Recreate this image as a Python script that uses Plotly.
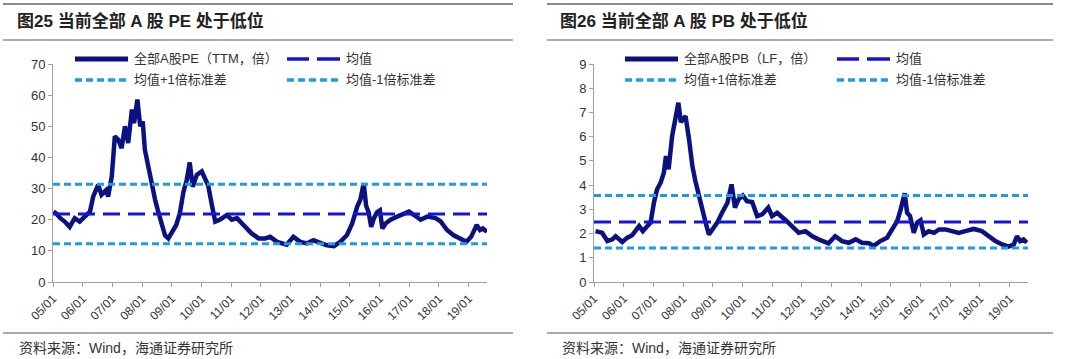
import plotly.graph_objects as go

# ---------------- data ----------------
pe_dates = ["2005-01-05", "2005-02-10", "2005-04-01", "2005-05-25", "2005-07-25", "2005-08-20",
            "2005-09-25", "2005-11-25", "2006-02-20", "2006-04-01", "2006-05-10", "2006-07-10",
            "2006-08-20", "2006-10-15", "2006-11-10", "2006-12-25", "2007-02-01", "2007-03-15",
            "2007-04-25", "2007-06-05", "2007-07-15", "2007-08-30", "2007-09-25", "2007-11-05",
            "2007-12-10", "2008-01-10", "2008-02-05", "2008-03-20", "2008-05-01", "2008-06-10",
            "2008-07-20", "2008-09-01", "2008-10-10", "2008-11-20", "2009-01-01", "2009-02-25",
            "2009-04-10", "2009-05-25", "2009-07-05", "2009-08-10", "2009-09-15", "2009-11-05",
            "2010-01-05", "2010-02-10", "2010-03-25", "2010-05-05", "2010-06-20", "2010-08-15",
            "2010-11-10", "2011-01-10", "2011-03-15", "2011-05-15", "2011-07-10", "2011-09-10",
            "2011-12-05", "2012-02-25", "2012-04-25", "2012-07-20", "2012-11-15", "2013-02-05",
            "2013-05-01", "2013-07-25", "2013-10-10", "2014-01-01", "2014-03-25", "2014-06-20",
            "2014-09-05", "2014-11-25", "2015-01-30", "2015-04-01", "2015-05-10", "2015-06-20",
            "2015-07-20", "2015-08-20", "2015-09-20", "2015-10-25", "2015-12-01", "2016-01-05",
            "2016-02-05", "2016-03-15", "2016-05-15", "2016-08-05", "2016-10-25", "2016-12-28",
            "2017-03-01", "2017-05-20", "2017-08-10", "2017-11-20", "2018-01-20", "2018-04-10",
            "2018-07-01", "2018-09-25", "2018-12-05", "2019-02-01", "2019-04-10", "2019-05-20",
            "2019-06-25", "2019-08-15"]
pe_values = [22.6, 22.0, 20.5, 19.4, 17.7, 19.0,
             20.5, 19.4, 21.5, 22.6, 27.4, 31.2,
             28.0, 29.5, 27.4, 33.9, 46.8, 45.7,
             43.0, 50.0, 44.6, 55.4, 51.0, 58.6,
             50.0, 51.6, 42.5, 37.0, 30.6, 26.4,
             22.4, 18.8, 15.0, 14.0, 15.6, 18.3,
             22.0, 29.0, 32.8, 38.4, 30.6, 34.4,
             35.5, 33.3, 31.0, 25.3, 19.4, 20.0,
             21.5, 20.0, 20.5, 18.8, 17.2, 15.6,
             14.0, 14.0, 14.5, 12.9, 12.0, 14.5,
             12.9, 12.4, 13.4, 12.4, 11.8, 11.5,
             12.9, 15.0, 18.8, 24.2, 26.4, 31.7,
             24.5, 22.4, 17.7, 20.5, 22.4, 23.0,
             17.2, 18.8, 20.0, 21.0, 22.0, 22.6,
             21.5, 20.0, 21.0, 20.5, 19.5, 16.7,
             15.0, 13.7, 12.9, 14.5, 18.3, 16.7,
             17.2, 16.1]
pe_mean, pe_plus1, pe_minus1 = 21.8, 31.4, 12.3

pb_dates = ["2005-01-20", "2005-04-10", "2005-06-15", "2005-08-15", "2005-09-25", "2005-12-15",
            "2006-02-15", "2006-04-15", "2006-07-10", "2006-08-25", "2006-10-20", "2006-11-28",
            "2007-01-08", "2007-02-15", "2007-04-01", "2007-05-10", "2007-06-05", "2007-07-08",
            "2007-08-20", "2007-09-25", "2007-11-05", "2007-12-05", "2008-02-01", "2008-03-15",
            "2008-04-25", "2008-06-01", "2008-07-15", "2008-08-25", "2008-10-05", "2008-11-15",
            "2008-12-25", "2009-02-25", "2009-04-25", "2009-07-01", "2009-08-20", "2009-10-01",
            "2009-11-15", "2010-01-05", "2010-02-25", "2010-05-01", "2010-07-01", "2010-09-01",
            "2010-11-15", "2011-01-01", "2011-03-05", "2011-05-05", "2011-07-01", "2011-09-01",
            "2011-11-25", "2012-02-15", "2012-05-10", "2012-07-25", "2012-11-25", "2013-02-15",
            "2013-05-10", "2013-08-01", "2013-10-25", "2014-01-10", "2014-04-05", "2014-06-05",
            "2014-08-25", "2014-11-15", "2015-01-15", "2015-03-20", "2015-05-01", "2015-06-20",
            "2015-07-20", "2015-08-25", "2015-10-10", "2015-11-20", "2016-01-01", "2016-02-10",
            "2016-04-10", "2016-06-15", "2016-08-15", "2016-11-01", "2017-01-20", "2017-04-15",
            "2017-07-05", "2017-10-15", "2018-01-25", "2018-04-20", "2018-07-10", "2018-10-01",
            "2018-12-20", "2019-02-20", "2019-04-01", "2019-05-10", "2019-06-20", "2019-08-01"]
pb_values = [2.10, 2.03, 1.69, 1.76, 1.89, 1.65,
             1.83, 1.93, 2.31, 2.10, 2.31, 2.45,
             3.27, 3.82, 4.10, 4.51, 5.20, 4.65,
             6.02, 6.58, 7.40, 6.60, 6.85, 5.89,
             4.79, 4.17, 3.55, 2.86, 2.45, 1.96,
             2.17, 2.45, 2.86, 3.27, 4.03, 3.07,
             3.41, 3.57, 3.34, 3.30, 2.72, 2.79,
             3.07, 2.72, 2.86, 2.65, 2.51, 2.31,
             2.03, 2.10, 1.89, 1.76, 1.60, 1.89,
             1.69, 1.62, 1.76, 1.62, 1.60, 1.49,
             1.69, 1.83, 2.17, 2.51, 2.99, 3.66,
             2.86, 2.72, 2.03, 2.45, 2.55, 1.96,
             2.10, 2.03, 2.17, 2.17, 2.10, 2.03,
             2.10, 2.19, 2.10, 1.89, 1.69, 1.55,
             1.46, 1.55, 1.89, 1.69, 1.76, 1.62]
pb_mean, pb_plus1, pb_minus1 = 2.48, 3.57, 1.40

year_ticks = [f"{y}-01-01" for y in range(2005, 2020)]
tick_labels = [f"{y % 100:02d}/01" for y in range(2005, 2020)]
x_start, x_end = "2005-01-01", "2019-08-15"

titles = ["图25 当前全部 A 股 PE 处于低位", "图26 当前全部 A 股 PB 处于低位"]
main_names = ["全部A股PE（TTM，倍）", "全部A股PB（LF，倍）"]
band_names = ["均值", "均值+1倍标准差", "均值-1倍标准差"]
source_text = "资料来源：Wind，海通证券研究所"

# ---------------- styling ----------------
W, H = 1080, 359
NAVY = "#0b1280"
MEAN_C = "#1515d6"
SD_C = "#1f9be3"
AXIS_C = "#a0a0a0"
TEXT_C = "#333333"
RULE_C = "#8c8c8c"
FONT = "Liberation Sans, Arial, Noto Sans CJK SC, sans-serif"
MEAN_DASH = "17px,8px"
SD_DASH = "7px,4px"


def px(x):
    return x / W


def py(y):
    return 1 - y / H


fig = go.Figure()

panels = [
    dict(xa="x", ya="y", dates=pe_dates, vals=pe_values, mean=pe_mean, p1=pe_plus1, m1=pe_minus1,
         left=53, right=487, yrange=[0, 70], dtick=10),
    dict(xa="x2", ya="y2", dates=pb_dates, vals=pb_values, mean=pb_mean, p1=pb_plus1, m1=pb_minus1,
         left=594, right=1028, yrange=[0, 9], dtick=1),
]

for p in panels:
    fig.add_trace(go.Scatter(x=p["dates"], y=p["vals"], mode="lines", xaxis=p["xa"], yaxis=p["ya"],
                             line=dict(color=NAVY, width=4.5), showlegend=False, hoverinfo="skip"))
    fig.add_trace(go.Scatter(x=[x_start, x_end], y=[p["mean"], p["mean"]], mode="lines",
                             xaxis=p["xa"], yaxis=p["ya"],
                             line=dict(color=MEAN_C, width=3, dash=MEAN_DASH), showlegend=False))
    for v in (p["p1"], p["m1"]):
        fig.add_trace(go.Scatter(x=[x_start, x_end], y=[v, v], mode="lines",
                                 xaxis=p["xa"], yaxis=p["ya"],
                                 line=dict(color=SD_C, width=3, dash=SD_DASH), showlegend=False))

y_dom = [py(282), py(64)]
axis_common = dict(showgrid=False, zeroline=False, showline=True, linecolor=AXIS_C, linewidth=1,
                   ticks="outside", ticklen=4, tickcolor=AXIS_C, automargin=False)

layout = dict(width=W, height=H, autosize=False,
              margin=dict(l=0, r=0, t=0, b=0, pad=0, autoexpand=False),
              paper_bgcolor="white", plot_bgcolor="white", showlegend=False,
              font=dict(family=FONT, color=TEXT_C))

for i, p in enumerate(panels):
    sfx = "" if i == 0 else "2"
    layout["xaxis" + sfx] = dict(axis_common, type="date", range=[x_start, x_end],
                                 domain=[px(p["left"]), px(p["right"])], anchor="y" + sfx,
                                 tickvals=year_ticks, ticktext=tick_labels, tickangle=-45,
                                 tickfont=dict(size=12, color=TEXT_C))
    layout["yaxis" + sfx] = dict(axis_common, range=p["yrange"], dtick=p["dtick"],
                                 domain=y_dom, anchor="x" + sfx,
                                 tickfont=dict(size=13, color=TEXT_C))

fig.update_layout(**layout)

shapes = []
annotations = []

# rules, titles, sources
for x0, x1, tx, title in [(3, 513, 15, titles[0]), (547, 1053, 558, titles[1])]:
    shapes.append(dict(type="line", xref="paper", yref="paper", x0=px(x0), x1=px(x1), y0=py(4), y1=py(4),
                       line=dict(color=RULE_C, width=2)))
    shapes.append(dict(type="line", xref="paper", yref="paper", x0=px(x0), x1=px(x1), y0=py(40), y1=py(40),
                       line=dict(color=RULE_C, width=1.5)))
    shapes.append(dict(type="line", xref="paper", yref="paper", x0=px(x0), x1=px(x1), y0=py(333), y1=py(333),
                       line=dict(color=RULE_C, width=1.5)))
    annotations.append(dict(text=f"<b>{title}</b>", xref="paper", yref="paper", x=px(tx), y=py(21),
                            xanchor="left", yanchor="middle", showarrow=False,
                            font=dict(size=17, color="#222222", family=FONT)))
    annotations.append(dict(text=source_text, xref="paper", yref="paper", x=px(tx + 2), y=py(348),
                            xanchor="left", yanchor="middle", showarrow=False,
                            font=dict(size=14, color=TEXT_C, family=FONT)))

# legends (drawn manually to match sample lengths)
legend_specs = [
    (75, 287, main_names[0]),
    (625, 837, main_names[1]),
]
for c1, c2, main_name in legend_specs:
    r1, r2 = 59, 80
    items = [
        (c1, r1, main_name, dict(color=NAVY, width=5), "solid"),
        (c2, r1, band_names[0], dict(color=MEAN_C, width=3.5), "mean"),
        (c1, r2, band_names[1], dict(color=SD_C, width=3.5), "sd"),
        (c2, r2, band_names[2], dict(color=SD_C, width=3.5), "sd"),
    ]
    for cx, ry, name, ln, kind in items:
        if kind == "solid":
            segs = [(cx, cx + 53)]
        elif kind == "mean":
            segs = [(cx, cx + 22), (cx + 30, cx + 53)]
        else:
            segs = [(cx + k * 11, cx + k * 11 + 7) for k in range(5)]
        for a, b in segs:
            shapes.append(dict(type="line", xref="paper", yref="paper", x0=px(a), x1=px(b),
                               y0=py(ry), y1=py(ry), line=ln))
        annotations.append(dict(text=name, xref="paper", yref="paper", x=px(cx + 57), y=py(ry),
                                xanchor="left", yanchor="middle", showarrow=False,
                                font=dict(size=13, color=TEXT_C, family=FONT)))

fig.update_layout(shapes=shapes, annotations=annotations)
fig.write_html("out.html", config={"responsive": False, "displayModeBar": False},
               post_script="document.body.style.margin='0';")
